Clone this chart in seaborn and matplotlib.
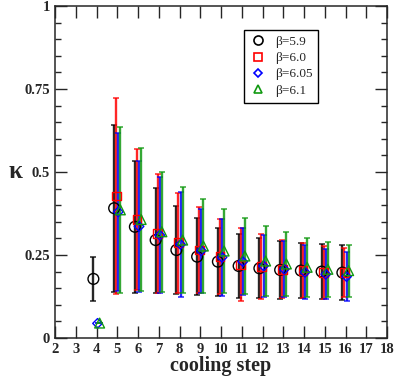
import numpy as np
import pandas as pd
import matplotlib
matplotlib.use("Agg")
import matplotlib.pyplot as plt
import seaborn as sns
from matplotlib.ticker import MultipleLocator, FixedLocator
from matplotlib.lines import Line2D

# ---- data ----
steps = [4, 5, 6, 7, 8, 9, 10, 11, 12, 13, 14, 15, 16]
labels = ["β=5.9", "β=6.0", "β=6.05", "β=6.1"]

k_59 = [0.178, 0.391, 0.335, 0.295, 0.265, 0.245, 0.230, 0.217, 0.210, 0.205, 0.203, 0.200, 0.197]
e_59 = [0.067, 0.251, 0.198, 0.158, 0.133, 0.115, 0.102, 0.096, 0.090, 0.087, 0.082, 0.082, 0.083]

k_60 = [np.nan, 0.428, 0.357, 0.315, 0.287, 0.265, 0.245, 0.220, 0.215, 0.207, 0.203, 0.197, 0.197]
e_60 = [np.nan, 0.294, 0.213, 0.178, 0.151, 0.129, 0.113, 0.110, 0.097, 0.088, 0.082, 0.080, 0.075]

k_605 = [0.044, 0.380, 0.336, 0.310, 0.282, 0.263, 0.243, 0.230, 0.217, 0.207, 0.198, 0.192, 0.185]
e_605 = [0.0, 0.237, 0.197, 0.174, 0.157, 0.127, 0.115, 0.100, 0.093, 0.085, 0.082, 0.076, 0.075]

k_61 = [0.045, 0.386, 0.357, 0.320, 0.295, 0.277, 0.262, 0.247, 0.232, 0.223, 0.213, 0.207, 0.203]
e_61 = [0.0, 0.251, 0.215, 0.181, 0.159, 0.142, 0.127, 0.115, 0.106, 0.096, 0.089, 0.082, 0.078]

# ---- style ----
colors = ["#000000", "#ff0000", "#0000ff", "#119911"]
markers = ["o", "s", "D", "^"]
msizes = [60, 40, 24, 50]
offsets = [-0.15, -0.05, 0.05, 0.15]

rows = []
for lab, k, e, off in zip(labels, [k_59, k_60, k_605, k_61], [e_59, e_60, e_605, e_61], offsets):
    for s, kv, ev in zip(steps, k, e):
        rows.append({"step": s + off, "kappa": kv, "err": ev, "beta": lab})
df = pd.DataFrame(rows).dropna()

sns.set_style("ticks")
plt.rcParams["font.family"] = ["Liberation Serif", "DejaVu Serif"]
plt.rcParams["axes.linewidth"] = 1.1

fig = plt.figure(figsize=(3.95, 3.76), dpi=100)
ax = fig.add_axes([55 / 395, 38 / 376, 332 / 395, 332 / 376])

for lab, col in zip(labels, colors):
    sub = df[df["beta"] == lab]
    ax.errorbar(sub["step"], sub["kappa"], yerr=sub["err"], fmt="none",
                ecolor=col, elinewidth=1.7, capsize=2.3, capthick=1.1, alpha=0.85, zorder=2)

sns.scatterplot(data=df, x="step", y="kappa", hue="beta", style="beta",
                hue_order=labels, style_order=labels,
                palette=dict(zip(labels, colors)), markers=dict(zip(labels, markers)),
                size="beta", sizes=dict(zip(labels, msizes)),
                linewidth=1.0, ax=ax, zorder=3, legend=False)
# hollow markers
for coll in ax.collections[-1:]:
    fc = coll.get_facecolors()
    coll.set_edgecolors(fc if len(fc) else coll.get_edgecolors())
    coll.set_facecolors("none")

ax.set_xlim(2, 18)
ax.set_ylim(0, 1)
ax.xaxis.set_major_locator(MultipleLocator(1))
ax.yaxis.set_major_locator(FixedLocator([0, 0.25, 0.5, 0.75, 1]))
ax.yaxis.set_minor_locator(MultipleLocator(0.05))
ax.set_yticklabels(["0", "0.25", "0.5", "0.75", "1"])
ax.tick_params(which="major", direction="in", length=8.5, width=1.0,
               top=True, right=True, labelsize=10.5)
ax.tick_params(which="minor", direction="in", length=4.5, width=1.0, right=True)
for t in ax.get_xticklabels() + ax.get_yticklabels():
    t.set_fontweight("bold")

ax.set_xlabel("cooling step", fontsize=14.5, fontweight="bold", labelpad=0)
ax.set_ylabel("κ", fontsize=18, fontweight="bold", rotation=0, va="center", ha="center")
ax.yaxis.set_label_coords(-0.12, 0.50)

handles = [Line2D([], [], linestyle="none", marker=m, markerfacecolor="none",
                  markeredgecolor=c, markersize=ms, markeredgewidth=1.2)
           for m, c, ms in zip(markers, colors, [6.5, 5.5, 4.5, 6])]
leg = ax.legend(handles, labels, loc="upper left", bbox_to_anchor=(0.569, 0.928),
                borderaxespad=0, frameon=True, fancybox=False, edgecolor="black",
                framealpha=1, fontsize=9.5, handlelength=1.3, handletextpad=0.6,
                borderpad=0.45, labelspacing=0.3)
leg.get_frame().set_linewidth(1.0)

fig.savefig("out.png", dpi=100)
